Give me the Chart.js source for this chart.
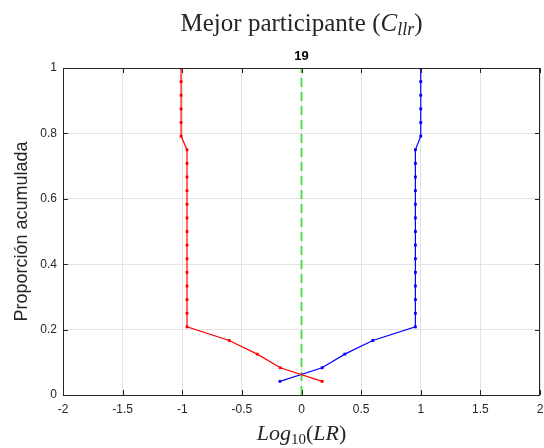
<!DOCTYPE html>
<html>
<head>
<meta charset="utf-8">
<script src="https://cdn.jsdelivr.net/npm/chart.js@4.4.0/dist/chart.umd.min.js"></script>
<style>
  html, body { margin: 0; padding: 0; background: #fff; }
</style>
</head>
<body>
<canvas id="chart" width="544" height="448"></canvas>
<script>
// cumulative proportion (one step per score, 24 scores)
const proportion = [0.0417, 0.0833, 0.125, 0.1667, 0.2083, 0.25, 0.2917, 0.3333,
    0.375, 0.4167, 0.4583, 0.5, 0.5417, 0.5833, 0.625, 0.6667,
    0.7083, 0.75, 0.7917, 0.8333, 0.875, 0.9167, 0.9583, 1.0];
// log10(LR) of the red curve (different-source)
const redLR = [0.173, -0.178, -0.371, -0.606, -0.96, -0.96, -0.96, -0.96,
    -0.96, -0.96, -0.96, -0.96, -0.96, -0.96, -0.96, -0.96,
    -0.96, -0.96, -1.01, -1.01, -1.01, -1.01, -1.01, -1.01];
// log10(LR) of the blue curve (same-source)
const blueLR = [-0.181, 0.173, 0.363, 0.598, 0.955, 0.955, 0.955, 0.955,
    0.955, 0.955, 0.955, 0.955, 0.955, 0.955, 0.955, 0.955,
    0.955, 0.955, 1.0, 1.0, 1.0, 1.0, 1.0, 1.0];
// the dashed threshold line
const thresholdX = [0, 0];
const thresholdY = [0, 1];

const axisColor = '#262626';
const sans = '"Liberation Sans", Arial, sans-serif';
const serif = '"Liberation Serif", "Times New Roman", serif';

function toPoints(xs, ys) {
    const pts = [];
    for (let i = 0; i < xs.length; i++) {
        pts.push({ x: xs[i], y: ys[i] });
    }
    return pts;
}

function tickLabel(value) {
    return String(Number(value.toFixed(2)));
}

// draws a string made of several pieces (normal / italic / subscript), centred on cx
function drawRich(ctx, parts, cx, baseline) {
    let w = 0;
    parts.forEach(function (p) {
        ctx.font = p.font;
        p.w = ctx.measureText(p.t).width;
        w += p.w;
    });
    let x = cx - w / 2;
    ctx.textAlign = 'left';
    ctx.textBaseline = 'alphabetic';
    parts.forEach(function (p) {
        ctx.font = p.font;
        ctx.fillText(p.t, x, baseline + (p.dy || 0));
        x += p.w;
    });
    return w;
}

const boxPlugin = {
    id: 'boxPlugin',
    afterDraw: function (chart) {
        const ctx = chart.ctx;
        const a = chart.chartArea;
        const xs = chart.scales.x;
        const ys = chart.scales.y;
        ctx.save();
        ctx.strokeStyle = axisColor;
        ctx.lineWidth = 1;
        ctx.strokeRect(Math.round(a.left) + 0.5, Math.round(a.top) + 0.5,
            Math.round(a.right - a.left) - 1, Math.round(a.bottom - a.top));

        // inward ticks on every side
        ctx.beginPath();
        xs.ticks.forEach(function (t) {
            const px = Math.round(xs.getPixelForValue(t.value)) + 0.5;
            ctx.moveTo(px, a.bottom);
            ctx.lineTo(px, a.bottom - 5);
            ctx.moveTo(px, a.top);
            ctx.lineTo(px, a.top + 5);
        });
        ys.ticks.forEach(function (t) {
            const py = Math.round(ys.getPixelForValue(t.value)) + 0.5;
            ctx.moveTo(a.left, py);
            ctx.lineTo(a.left + 5, py);
            ctx.moveTo(a.right, py);
            ctx.lineTo(a.right - 5, py);
        });
        ctx.stroke();

        const cx = (a.left + a.right) / 2;
        ctx.fillStyle = '#000';

        // subtitle
        ctx.font = 'bold 13px ' + sans;
        ctx.textAlign = 'center';
        ctx.textBaseline = 'alphabetic';
        ctx.fillText('19', cx, 60);

        // main title (LaTeX-like)
        ctx.fillStyle = '#262626';
        const s = 25;
        const title = [
            { t: 'Mejor participante (', font: s + 'px ' + serif },
            { t: 'C', font: 'italic ' + s + 'px ' + serif },
            { t: 'llr', font: 'italic ' + Math.round(s * 0.7) + 'px ' + serif, dy: 4 },
            { t: ')', font: s + 'px ' + serif }
        ];
        drawRich(ctx, title, cx, 31);

        // x axis label
        const xl = [
            { t: 'Log', font: 'italic 22px ' + serif },
            { t: '10', font: '15px ' + serif, dy: 4 },
            { t: '(', font: '22px ' + serif },
            { t: 'LR', font: 'italic 22px ' + serif },
            { t: ')', font: '22px ' + serif }
        ];
        drawRich(ctx, xl, cx, 440);

        // y axis label
        ctx.save();
        ctx.translate(27, (a.top + a.bottom) / 2);
        ctx.rotate(-Math.PI / 2);
        ctx.font = '18px ' + sans;
        ctx.textAlign = 'center';
        ctx.fillStyle = '#262626';
        ctx.fillText('Proporción acumulada', 0, 0);
        ctx.restore();

        ctx.restore();
    }
};

new Chart(document.getElementById('chart'), {
    type: 'scatter',
    data: {
        datasets: [{
            label: 'red',
            data: toPoints(redLR, proportion),
            showLine: true,
            borderColor: '#ff0000',
            backgroundColor: '#ff0000',
            borderWidth: 1.2,
            pointStyle: 'rect',
            pointRadius: 2,
            pointBorderWidth: 0,
            tension: 0
        }, {
            label: 'blue',
            data: toPoints(blueLR, proportion),
            showLine: true,
            borderColor: '#0000ff',
            backgroundColor: '#0000ff',
            borderWidth: 1.2,
            pointStyle: 'rect',
            pointRadius: 2,
            pointBorderWidth: 0,
            tension: 0
        }, {
            label: 'threshold',
            data: toPoints(thresholdX, thresholdY),
            showLine: true,
            borderColor: 'rgba(40, 220, 40, 0.8)',
            borderWidth: 2,
            borderDash: [9, 5],
            pointRadius: 0
        }]
    },
    options: {
        responsive: false,
        animation: false,
        layout: {
            padding: { top: 68, right: 3, bottom: 0, left: 0 }
        },
        plugins: {
            legend: { display: false },
            tooltip: { enabled: false },
            title: { display: false }
        },
        scales: {
            x: {
                type: 'linear',
                min: -2,
                max: 2,
                afterFit: function (scale) {
                    scale.height = 53;
                    scale.paddingLeft = 0;
                    scale.paddingRight = 0;
                },
                ticks: {
                    stepSize: 0.5,
                    padding: 7,
                    color: axisColor,
                    font: { family: sans, size: 12 },
                    maxRotation: 0,
                    callback: tickLabel
                },
                grid: { color: '#e3e3e3', drawTicks: false },
                border: { display: false }
            },
            y: {
                type: 'linear',
                min: 0,
                max: 1,
                afterFit: function (scale) {
                    scale.width = 63;
                    scale.paddingTop = 0;
                    scale.paddingBottom = 0;
                },
                ticks: {
                    stepSize: 0.2,
                    padding: 6,
                    color: axisColor,
                    font: { family: sans, size: 12 },
                    callback: tickLabel
                },
                grid: { color: '#e3e3e3', drawTicks: false },
                border: { display: false }
            }
        }
    },
    plugins: [boxPlugin]
});
</script>
</body>
</html>
